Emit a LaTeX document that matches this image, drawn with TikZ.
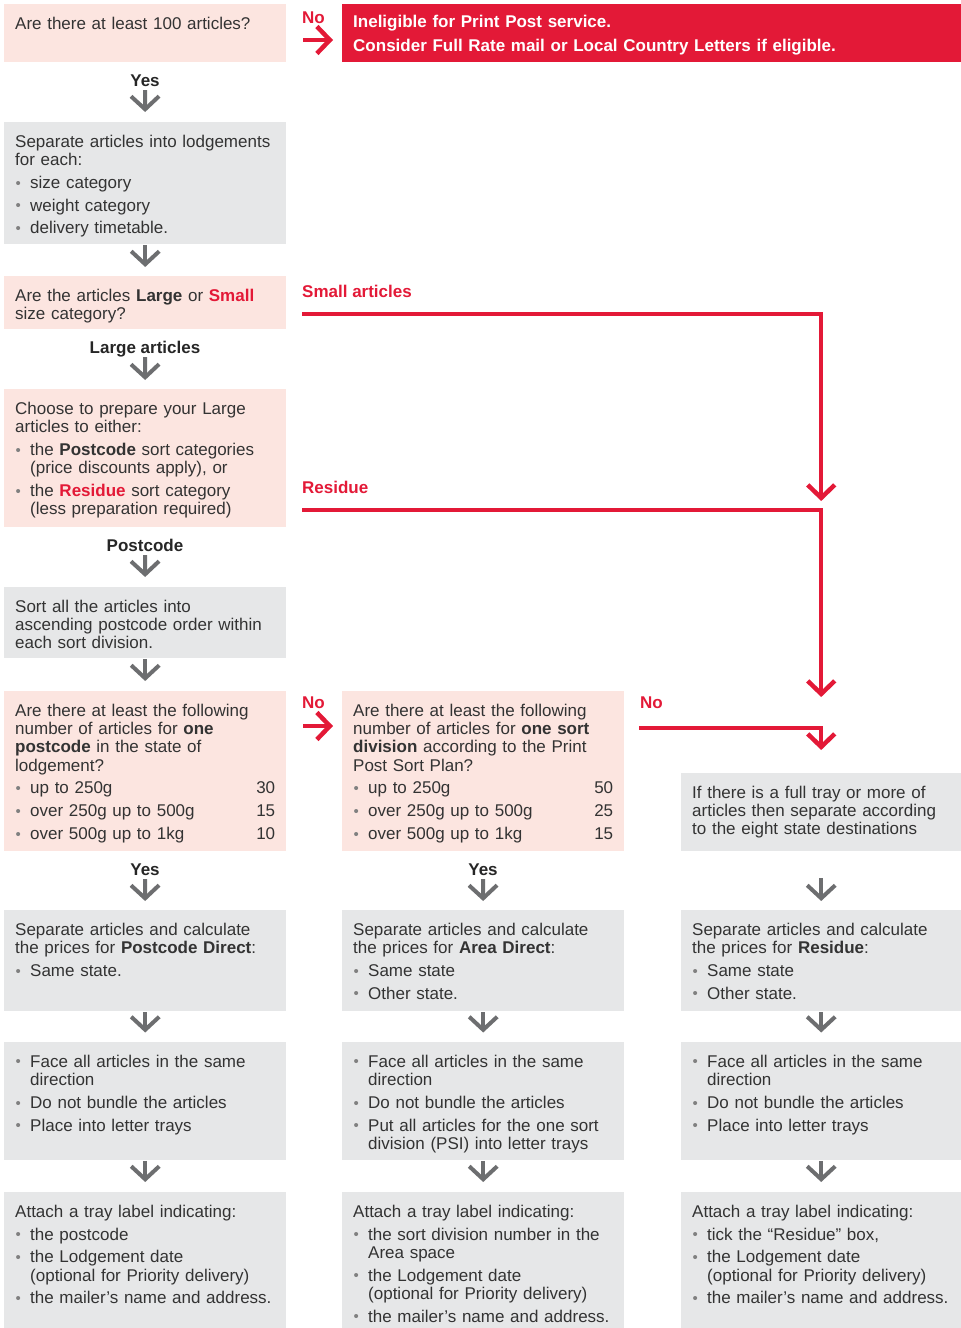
\documentclass[tikz,border=0pt]{standalone}
\usepackage{fontspec}
\setmainfont{Liberation Sans}
\usepackage{xcolor}
\usepackage{tikz}
\usetikzlibrary{arrows.meta,positioning,calc}

\definecolor{apred}{RGB}{227,25,55}
\definecolor{boxpink}{RGB}{252,229,224}
\definecolor{boxgrey}{RGB}{230,231,232}
\definecolor{arrowgrey}{RGB}{109,110,112}
\definecolor{textgrey}{RGB}{51,51,51}
\definecolor{dotgrey}{RGB}{128,128,128}

\newcommand{\bodyfont}{\fontsize{17}{18.3}\selectfont}
\newcommand{\bline}[1]{\hangindent=15pt\hangafter=1\noindent\hbox to 15pt{\hspace{0.5pt}\raisebox{0.3pt}{\textcolor{dotgrey}{\fontsize{15}{15}\selectfont\textbullet}}\hfil}#1\par}
\newcommand{\bitem}[1]{\par\vspace{4.5pt}\bline{#1}}
\newcommand{\cnt}[1]{\hskip 0pt plus 1fill #1}
\newcommand{\red}[1]{\textcolor{apred}{#1}}

\begin{document}
\begin{tikzpicture}[x=1pt,y=-1pt,
  box/.style={anchor=north west,inner xsep=11pt,inner ysep=12pt,text height=13pt,
    text width=260pt,align=left,font=\bodyfont,text=textgrey},
  ask/.style={box,fill=boxpink},
  task/.style={box,fill=boxgrey},
  stopbox/.style={box,fill=apred,text=white,text width=597pt,text height=11pt,
    text depth=23pt,font=\fontsize{17}{24.4}\selectfont\bfseries},
  answer/.style={anchor=base,inner sep=0pt,text depth=4pt,font=\bodyfont\bfseries,text=black!85},
  redlbl/.style={anchor=base west,inner sep=0pt,font=\bodyfont\bfseries,text=apred},
  flow/.style={draw=arrowgrey,line width=4pt,-{Straight Barb[length=13pt,width=28pt]}},
  branch/.style={draw=apred,line width=4.5pt,line join=miter,-{Straight Barb[length=13pt,width=27pt]}}]

  \useasboundingbox (0,0) rectangle (961,1328);

  \node[ask,text depth=21pt] (count) at (4,4) {Are there at least 100 articles?};
  \node[stopbox] (inelig) at (342,4) {Ineligible for Print Post service.\newline Consider Full Rate mail or Local Country Letters if eligible.};
  \node[answer] (yes1) at (145,86) {Yes};
  \node[task,text depth=85pt] (lodge) at (4,122) {Separate articles into lodgements\newline for each:\bitem{size category}\bitem{weight category}\bitem{delivery timetable.}};
  \node[ask,text depth=16pt] (size) at (4,276) {Are the articles \textbf{Large} or \textbf{\red{Small}}\newline size category?};
  \node[answer] (large) at (145,353) {Large articles};
  \node[ask,text depth=101pt] (choose) at (4,389) {Choose to prepare your Large\newline articles to either:\bitem{the \textbf{Postcode} sort categories\newline (price discounts apply), or}\bitem{the \textbf{\red{Residue}} sort category\newline (less preparation required)}};
  \node[answer] (pcode) at (145,551) {Postcode};
  \node[task,text depth=34pt] (sortall) at (4,587) {Sort all the articles into\newline ascending postcode order within\newline each sort division.};

  \node[ask,text depth=123pt] (onepc) at (4,691) {Are there at least the following\newline number of articles for \textbf{one}\newline \textbf{postcode} in the state of\newline lodgement?\bitem{up to 250g\cnt{30}}\bitem{over 250g up to 500g\cnt{15}}\bitem{over 500g up to 1kg\cnt{10}}};
  \node[ask,text depth=123pt] (onediv) at (342,691) {Are there at least the following\newline number of articles for \textbf{one sort}\newline \textbf{division} according to the Print\newline Post Sort Plan?\bitem{up to 250g\cnt{50}}\bitem{over 250g up to 500g\cnt{25}}\bitem{over 500g up to 1kg\cnt{15}}};
  \node[task,text width=258pt,text depth=41pt] (tray) at (681,773) {If there is a full tray or more of\newline articles then separate according\newline to the eight state destinations};

  \node[answer] (yes2) at (145,875) {Yes};
  \node[answer] (yes3) at (483,875) {Yes};

  \node[task,text depth=64pt] (pdirect) at (4,910) {Separate articles and calculate\newline the prices for \textbf{Postcode Direct}:\bitem{Same state.}};
  \node[task,text depth=64pt] (adirect) at (342,910) {Separate articles and calculate\newline the prices for \textbf{Area Direct}:\bitem{Same state}\bitem{Other state.}};
  \node[task,text width=258pt,text depth=64pt] (rprice) at (681,910) {Separate articles and calculate\newline the prices for \textbf{Residue}:\bitem{Same state}\bitem{Other state.}};

  \node[task,text depth=81pt] (pface) at (4,1042) {\bline{Face all articles in the same\newline direction}\bitem{Do not bundle the articles}\bitem{Place into letter trays}};
  \node[task,text depth=81pt] (aface) at (342,1042) {\bline{Face all articles in the same\newline direction}\bitem{Do not bundle the articles}\bitem{Put all articles for the one sort\newline division (PSI) into letter trays}};
  \node[task,text width=258pt,text depth=81pt] (rface) at (681,1042) {\bline{Face all articles in the same\newline direction}\bitem{Do not bundle the articles}\bitem{Place into letter trays}};

  \node[task,text depth=99pt] (plabel) at (4,1192) {Attach a tray label indicating:\bitem{the postcode}\bitem{the Lodgement date\newline (optional for Priority delivery)}\bitem{the mailer’s name and address.}};
  \node[task,text depth=99pt] (alabel) at (342,1192) {Attach a tray label indicating:\bitem{the sort division number in the\newline Area space}\bitem{the Lodgement date\newline (optional for Priority delivery)}\bitem{the mailer’s name and address.}};
  \node[task,text width=258pt,text depth=99pt] (rlabel) at (681,1192) {Attach a tray label indicating:\bitem{tick the “Residue” box,}\bitem{the Lodgement date\newline (optional for Priority delivery)}\bitem{the mailer’s name and address.}};

  \node[redlbl] (no1) at (302,23) {No};
  \node[redlbl] (small) at (302,297) {Small articles};
  \node[redlbl] (resid) at (302,493) {Residue};
  \node[redlbl] (no2) at (302,708) {No};
  \node[redlbl] (no3) at (640,708) {No};

  \coordinate (no1s) at (303,40);
  \coordinate (smalls) at (302,314);
  \coordinate (resids) at (302,510);
  \coordinate (no2s) at (303,726);
  \coordinate (no3s) at (639,728);

  \draw[branch,shorten >=9pt] (no1s) -- (no1s -| inelig.west);
  \draw[branch,shorten >=272pt] (smalls) -| (tray.north);
  \draw[branch,shorten >=76pt] (resids) -| (tray.north);
  \draw[branch,shorten >=9pt] (no2s) -- (no2s -| onediv.west);
  \draw[branch,shorten >=23pt] (no3s) -| (tray.north);

  \draw[flow,shorten >=10pt] (yes1.south) -- (lodge.north);
  \draw[flow,shorten <=1pt,shorten >=9pt] (lodge.south) -- (size.north);
  \draw[flow,shorten >=9pt] (large.south) -- (choose.north);
  \draw[flow,shorten >=10pt] (pcode.south) -- (sortall.north);
  \draw[flow,shorten <=1pt,shorten >=10pt] (sortall.south) -- (onepc.north);
  \draw[flow,shorten >=9pt] (yes2.south) -- (pdirect.north);
  \draw[flow,shorten >=9pt] (yes3.south) -- (adirect.north);
  \draw[flow,shorten <=27pt,shorten >=9pt] (tray.south) -- (rprice.north);
  \draw[flow,shorten <=1pt,shorten >=9.5pt] (pdirect.south) -- (pface.north);
  \draw[flow,shorten <=1pt,shorten >=9.5pt] (adirect.south) -- (aface.north);
  \draw[flow,shorten <=1pt,shorten >=9.5pt] (rprice.south) -- (rface.north);
  \draw[flow,shorten <=0.5pt,shorten >=10pt] (pface.south) -- (plabel.north);
  \draw[flow,shorten <=0.5pt,shorten >=10pt] (aface.south) -- (alabel.north);
  \draw[flow,shorten <=0.5pt,shorten >=10pt] (rface.south) -- (rlabel.north);
\end{tikzpicture}
\end{document}
